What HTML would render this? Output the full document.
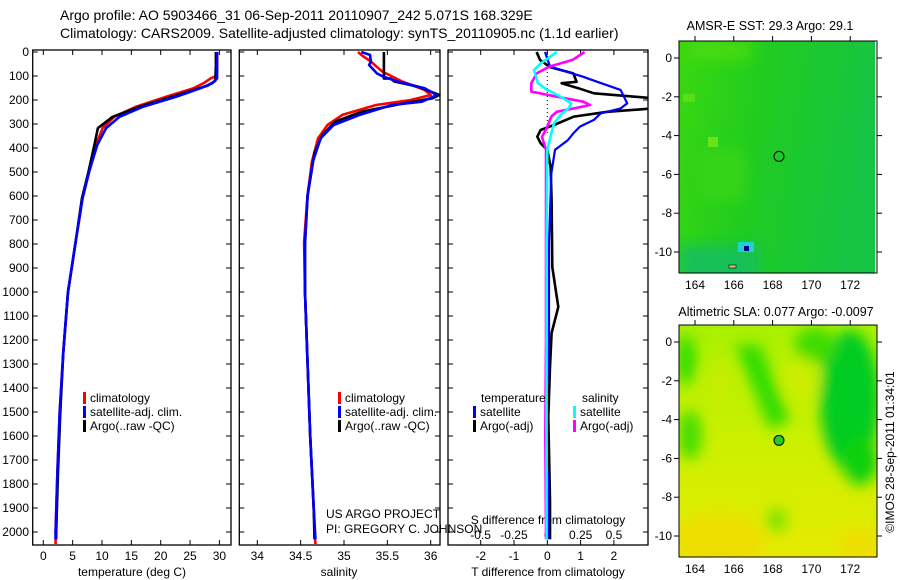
<!DOCTYPE html>
<html><head><meta charset="utf-8">
<style>
html,body{margin:0;padding:0;background:#fff;}
svg{display:block;font-family:"Liberation Sans",sans-serif;}
</style></head>
<body>
<svg id="fig" width="900" height="580" viewBox="0 0 900 580" xmlns="http://www.w3.org/2000/svg">
<defs>
  <linearGradient id="sstGrad" x1="0" y1="0" x2="1" y2="0.2">
    <stop offset="0" stop-color="#3ad810"/>
    <stop offset="0.45" stop-color="#20cc20"/>
    <stop offset="1" stop-color="#16c444"/>
  </linearGradient>
  <linearGradient id="slaGrad" x1="0" y1="0" x2="0" y2="1">
    <stop offset="0" stop-color="#a8f000"/>
    <stop offset="0.5" stop-color="#ccf000"/>
    <stop offset="1" stop-color="#e6ea00"/>
  </linearGradient>
  <filter id="blur6"><feGaussianBlur stdDeviation="7"/></filter>
  <clipPath id="clipM1"><rect x="679" y="41" width="198" height="232"/></clipPath>
  <clipPath id="clipM2"><rect x="679" y="325" width="198" height="232"/></clipPath>
  <clipPath id="clipP3"><rect x="448" y="50" width="200" height="495"/></clipPath>
</defs>
<g id="root"></g>
</svg>
<script>
// ---------------- DATA ----------------
const depthTicks = [0,100,200,300,400,500,600,700,800,900,1000,1100,1200,1300,1400,1500,1600,1700,1800,1900,2000];
const tTicks = [0,5,10,15,20,25,30];
const sTicks = [34,34.5,35,35.5,36];
const sTickLabels = ["34","34.5","35","35.5","36"];
const dTTicks = [-2,-1,0,1,2];
const dSTicks = [-0.5,-0.25,0,0.25,0.5];
const dSTickLabels = ["-0.5","-0.25","0","0.25","0.5"];

// temperature profiles (depth m, temp degC)
const tClimDepth = [0,60,100,110,130,151,186,228,270,317,387,499,608,792,1000,1250,1500,1750,2000,2050];
const tClimVal   = [29.6,29.6,29.5,28.5,27.3,25.6,21.0,15.8,12.1,10.1,9.0,7.8,6.7,5.5,4.2,3.4,2.8,2.4,2.1,2.1];
const tSatDepth  = [0,60,110,130,151,186,228,270,317,387,499,608,792,1000,1250,1500,1750,2000,2030];
const tSatVal    = [29.6,29.6,29.6,28.8,26.8,22.7,17.0,13.0,10.7,9.2,7.8,6.7,5.5,4.2,3.4,2.8,2.4,2.1,2.1];
const tArgoDepth = [0,60,120,140,186,228,270,317,387,499,608,792,1000,1250,1500,1750,2000,2030];
const tArgoVal   = [29.4,29.4,29.3,28.0,22.0,16.4,11.8,9.3,8.7,7.7,6.6,5.5,4.2,3.4,2.9,2.5,2.2,2.2];

// salinity profiles (depth m, psu)
const sClimDepth = [0,12,40,81,123,158,179,200,221,262,304,360,457,596,790,1000,1300,1600,1900,2050];
const sClimVal   = [35.16,35.2,35.31,35.44,35.67,35.93,36.0,35.77,35.37,34.98,34.81,34.7,34.63,34.58,34.54,34.55,34.58,34.61,34.65,34.67];
const sSatDepth  = [0,12,40,54,89,102,123,151,179,207,221,262,304,360,457,596,790,1000,1300,1600,1900,2030];
const sSatVal    = [35.2,35.3,35.31,35.29,35.38,35.45,35.62,35.93,36.07,35.9,35.55,35.18,34.88,34.73,34.64,34.58,34.55,34.55,34.58,34.61,34.65,34.67];
const sArgoDepth = [0,110,111,123,144,179,193,214,249,290,346,420,600,800,1000,1300,1600,1900,2030];
const sArgoVal   = [35.46,35.46,35.54,35.58,35.85,36.1,36.02,35.69,35.2,34.9,34.75,34.66,34.58,34.55,34.55,34.58,34.61,34.65,34.66];

// differences from climatology
const dTSatDepth = [0,61,103,124,158,186,214,235,256,283,311,339,367,408,506,800,1200,1500,1650,1800,2030];
const dTSatVal   = [-0.07,0.08,1.07,1.5,2.2,2.3,2.4,2.2,1.6,1.4,0.98,0.78,0.62,0.23,0.12,0.05,0.05,-0.04,-0.04,0.03,0.03];
const dTArgoDepth= [0,33,63,89,124,130,151,172,193,235,249,269,304,325,353,380,408,478,617,896,1062,1171,1312,1520,1867,2030];
const dTArgoVal  = [-0.32,-0.22,0.08,0.78,0.88,0.43,0.93,1.4,3.2,3.2,1.8,0.8,0.2,-0.2,-0.3,-0.2,0.0,0.1,0.13,0.15,0.33,0.13,0.08,0.03,0.08,0.08];
const dSArgoDepth= [0,33,61,89,130,165,186,207,221,235,249,269,318,353,408,800,1200,1600,2000,2030];
const dSArgoVal  = [0.28,0.19,0.015,-0.08,-0.12,-0.12,0.07,0.27,0.32,0.2,0.07,0.03,-0.005,-0.04,-0.01,-0.01,-0.01,-0.015,-0.01,-0.01];
const dSSatDepth = [0,20,48,75,130,158,186,214,235,262,297,339,408,800,1200,1600,2000,2030];
const dSSatVal   = [0.07,0.02,-0.05,-0.1,-0.07,0.0,0.1,0.18,0.16,0.1,0.05,0.03,0.0,-0.005,-0.005,-0.005,-0.005,-0.005];

// maps
const lonTicks = [164,166,168,170,172];
const latTicks = [0,-2,-4,-6,-8,-10];
const latTickLabels = ["0","-2","-4","-6","-8","-10"];
const floatLon = 168.329, floatLat = -5.071;

// ---------------- HELPERS ----------------
const NS = "http://www.w3.org/2000/svg";
const root = document.getElementById('root');
function mk(tag, attrs, parent){ const e=document.createElementNS(NS,tag); for(const k in attrs) e.setAttribute(k,attrs[k]); (parent||root).appendChild(e); return e; }
function txt(x,y,s,anchor,size,parent){ const t=mk('text',{x:x,y:y,'font-size':size||12,'text-anchor':anchor||'start',fill:'#000'},parent); t.textContent=s; return t; }

const yD = d => 52 + d*0.24;
const xT = t => 43.3 + t*5.87;
const xS = s => 257.3 + (s-34)*86.7;
const xDT = v => 547.3 + v*33.3;
const xDS = v => 547.3 + v*133.3;
const xLon = l => 695 + (l-164)*19.4;
const yLat1 = l => 58 - l*19.4;
const yLat2 = l => 342 - l*19.4;

function line(depths, vals, xf, color, width, name, clip){
  const pts = depths.map((d,i)=>xf(vals[i]).toFixed(1)+','+yD(d).toFixed(1)).join(' ');
  const p = mk('polyline',{points:pts,fill:'none',stroke:color,'stroke-width':width,'stroke-linejoin':'round'});
  if(clip) p.setAttribute('clip-path',clip);
  
  
  return p;
}

// ---------------- TITLE ----------------
const t1 = txt(60,20,"Argo profile: AO 5903466_31 06-Sep-2011 20110907_242 5.071S 168.329E",'start',14);


const t2 = txt(60,38,"Climatology: CARS2009. Satellite-adjusted climatology: synTS_20110905.nc (1.1d earlier)",'start',14);



// ---------------- PANEL FRAMES ----------------
const panels = [[32.7,231],[239.3,440],[448,648]];
panels.forEach((p,i)=>{
  const r = mk('rect',{x:p[0],y:50,width:p[1]-p[0],height:495,fill:'none',stroke:'#000','stroke-width':1.3});
  
  
  depthTicks.forEach(d=>{
    mk('line',{x1:p[0],x2:p[0]+5,y1:yD(d),y2:yD(d),stroke:'#000'});
    mk('line',{x1:p[1]-5,x2:p[1],y1:yD(d),y2:yD(d),stroke:'#000'});
  });
});
depthTicks.forEach(d=>{
  const l = txt(29,yD(d)+4,String(d),'end',12);
  
  
});

tTicks.forEach(t=>{
  mk('line',{x1:xT(t),x2:xT(t),y1:50,y2:55,stroke:'#000'});
  mk('line',{x1:xT(t),x2:xT(t),y1:540,y2:545,stroke:'#000'});
  const l = txt(xT(t),560,String(t),'middle',12);
  
  
});
const xl1 = txt(132,576,"temperature (deg C)",'middle',12);



sTicks.forEach((s,i)=>{
  mk('line',{x1:xS(s),x2:xS(s),y1:50,y2:55,stroke:'#000'});
  mk('line',{x1:xS(s),x2:xS(s),y1:540,y2:545,stroke:'#000'});
  const l = txt(xS(s),560,sTickLabels[i],'middle',12);
  
  
});
const xl2 = txt(339,576,"salinity",'middle',12);



dTTicks.forEach(v=>{
  mk('line',{x1:xDT(v),x2:xDT(v),y1:540,y2:545,stroke:'#000'});
  mk('line',{x1:xDT(v),x2:xDT(v),y1:50,y2:55,stroke:'#000'});
  const l = txt(xDT(v),560,String(v),'middle',12);
  
  
});
const xl3 = txt(548,576,"T difference from climatology",'middle',12);


dSTicks.forEach((v,i)=>{
  const l = txt(xDS(v),539,dSTickLabels[i],'middle',12);
  
  
});
const xl4 = txt(548,524,"S difference from climatology",'middle',12);



const pr1 = txt(326,518,"US ARGO PROJECT",'start',12);


const pr2 = txt(326,533,"PI: GREGORY C. JOHNSON",'start',12);



// ---------------- PROFILES ----------------
line(tClimDepth,tClimVal,xT,'#ff0000',2.6,'temp-climatology-line');
line(tArgoDepth,tArgoVal,xT,'#000000',2.6,'temp-argo-line');
line(tSatDepth,tSatVal,xT,'#0000ff',2.6,'temp-satellite-line');

line(sClimDepth,sClimVal,xS,'#ff0000',2.6,'sal-climatology-line');
line(sArgoDepth,sArgoVal,xS,'#000000',2.6,'sal-argo-line');
line(sSatDepth,sSatVal,xS,'#0000ff',2.6,'sal-satellite-line');

const zl = mk('line',{x1:xDT(0),x2:xDT(0),y1:52,y2:135,stroke:'#000','stroke-dasharray':'1,3'});


line(dTArgoDepth,dTArgoVal,xDT,'#000000',2.6,'tdiff-argo-line','url(#clipP3)');
line(dTSatDepth,dTSatVal,xDT,'#0000ff',2.2,'tdiff-satellite-line','url(#clipP3)');
line(dSArgoDepth,dSArgoVal,xDS,'#ff00ff',2.6,'sdiff-argo-line','url(#clipP3)');
line(dSSatDepth,dSSatVal,xDS,'#00ffff',2.6,'sdiff-satellite-line','url(#clipP3)');

// ---------------- LEGENDS ----------------
function legendEntry(x,y,color,label,name){
  const g = mk('g',{});
  
  
  mk('rect',{x:x,y:y-10,width:3,height:12,fill:color},g);
  txt(x+7,y,label,'start',12,g);
}
const legLabels = ["climatology","satellite-adj. clim.","Argo(..raw -QC)"];
const legColors = ['#ff0000','#0000ff','#000000'];
legLabels.forEach((l,i)=>{
  legendEntry(83,402+i*14,legColors[i],l,'temp-legend-entry');
  legendEntry(338,402+i*14,legColors[i],l,'sal-legend-entry');
});
const lt = txt(481,402,"temperature",'start',12);


const ls = txt(582,402,"salinity",'start',12);


legendEntry(473,416,'#0000ff','satellite','tdiff-legend-satellite');
legendEntry(473,430,'#000000','Argo(-adj)','tdiff-legend-argo');
legendEntry(573,416,'#00ffff','satellite','sdiff-legend-satellite');
legendEntry(573,430,'#ff00ff','Argo(-adj)','sdiff-legend-argo');

// ---------------- MAPS ----------------
function mapAxes(yLat, top, name){
  const fr = mk('rect',{x:679,y:top,width:198,height:232,fill:'none',stroke:'#000','stroke-width':1});
  
  
  latTicks.forEach((l,i)=>{
    mk('line',{x1:674,x2:679,y1:yLat(l),y2:yLat(l),stroke:'#000'});
    mk('line',{x1:877,x2:882,y1:yLat(l),y2:yLat(l),stroke:'#000'});
    const t = txt(672,yLat(l)+4,latTickLabels[i],'end',12);
    
    
  });
  lonTicks.forEach(l=>{
    mk('line',{x1:xLon(l),x2:xLon(l),y1:top-5,y2:top,stroke:'#000'});
    const t = txt(xLon(l),top+248,String(l),'middle',12);
    
    
  });
}

// map 1 (SST)
const m1 = mk('g',{'clip-path':'url(#clipM1)'});


mk('rect',{x:679,y:41,width:198,height:232,fill:'url(#sstGrad)'},m1);
const gb1 = mk('g',{filter:'url(#blur6)'},m1);
mk('rect',{x:679,y:245,width:80,height:35,fill:'#18c058'},gb1);
mk('rect',{x:690,y:41,width:60,height:18,fill:'#48dc10'},gb1);
mk('rect',{x:700,y:150,width:45,height:50,fill:'#34d418'},gb1);
mk('rect',{x:683,y:94,width:12,height:8,fill:'#5ade14'},m1);
mk('rect',{x:708,y:137,width:10,height:10,fill:'#6ae21a'},m1);
mk('rect',{x:738,y:242,width:16,height:10,fill:'#22d0d0'},m1);
mk('rect',{x:744,y:246,width:5,height:5,fill:'#00008b'},m1);
mk('rect',{x:729,y:265,width:7,height:3,fill:'#f4b080',stroke:'#000','stroke-width':0.6},m1);
mk('rect',{x:875,y:41,width:2,height:232,fill:'#fff'},m1);
const c1 = mk('circle',{cx:xLon(floatLon),cy:yLat1(floatLat),r:5,fill:'none',stroke:'#000','stroke-width':1});


mapAxes(yLat1,41,'sst-map');
const mt1 = txt(770,30,"AMSR-E SST: 29.3 Argo: 29.1",'middle',12.5);



// map 2 (SLA)
const m2 = mk('g',{'clip-path':'url(#clipM2)'});


mk('rect',{x:679,y:325,width:198,height:232,fill:'url(#slaGrad)'},m2);
const g2 = mk('g',{filter:'url(#blur6)'},m2);
mk('ellipse',{cx:850,cy:400,rx:30,ry:70,fill:'#00cc22'},g2);
mk('ellipse',{cx:860,cy:460,rx:18,ry:25,fill:'#10d010'},g2);
mk('ellipse',{cx:815,cy:345,rx:20,ry:18,fill:'#40dc00'},g2);
mk('polygon',{points:'735,345 760,345 790,420 770,430',fill:'#33dd00'},g2);
mk('ellipse',{cx:686,cy:360,rx:10,ry:25,fill:'#33dd00'},g2);
mk('ellipse',{cx:690,cy:435,rx:12,ry:25,fill:'#44dd00'},g2);
mk('ellipse',{cx:777,cy:520,rx:10,ry:12,fill:'#77e400'},g2);
mk('ellipse',{cx:800,cy:380,rx:18,ry:22,fill:'#ccee00'},g2);
mk('ellipse',{cx:720,cy:385,rx:15,ry:25,fill:'#c4ee00'},g2);
mk('ellipse',{cx:720,cy:540,rx:45,ry:25,fill:'#eedd00'},g2);
mk('ellipse',{cx:860,cy:545,rx:20,ry:15,fill:'#eedd00'},g2);
const c2 = mk('circle',{cx:xLon(floatLon),cy:yLat2(floatLat),r:5,fill:'#22cc22',stroke:'#000','stroke-width':1});


mapAxes(yLat2,325,'sla-map');
const mt2 = txt(776,316,"Altimetric SLA: 0.077 Argo: -0.0097",'middle',12.5);



const cr = txt(0,0,"©IMOS 28-Sep-2011 01:34:01",'middle',12);
cr.setAttribute('transform','translate(894,452) rotate(-90)');


</script>
</body></html>
